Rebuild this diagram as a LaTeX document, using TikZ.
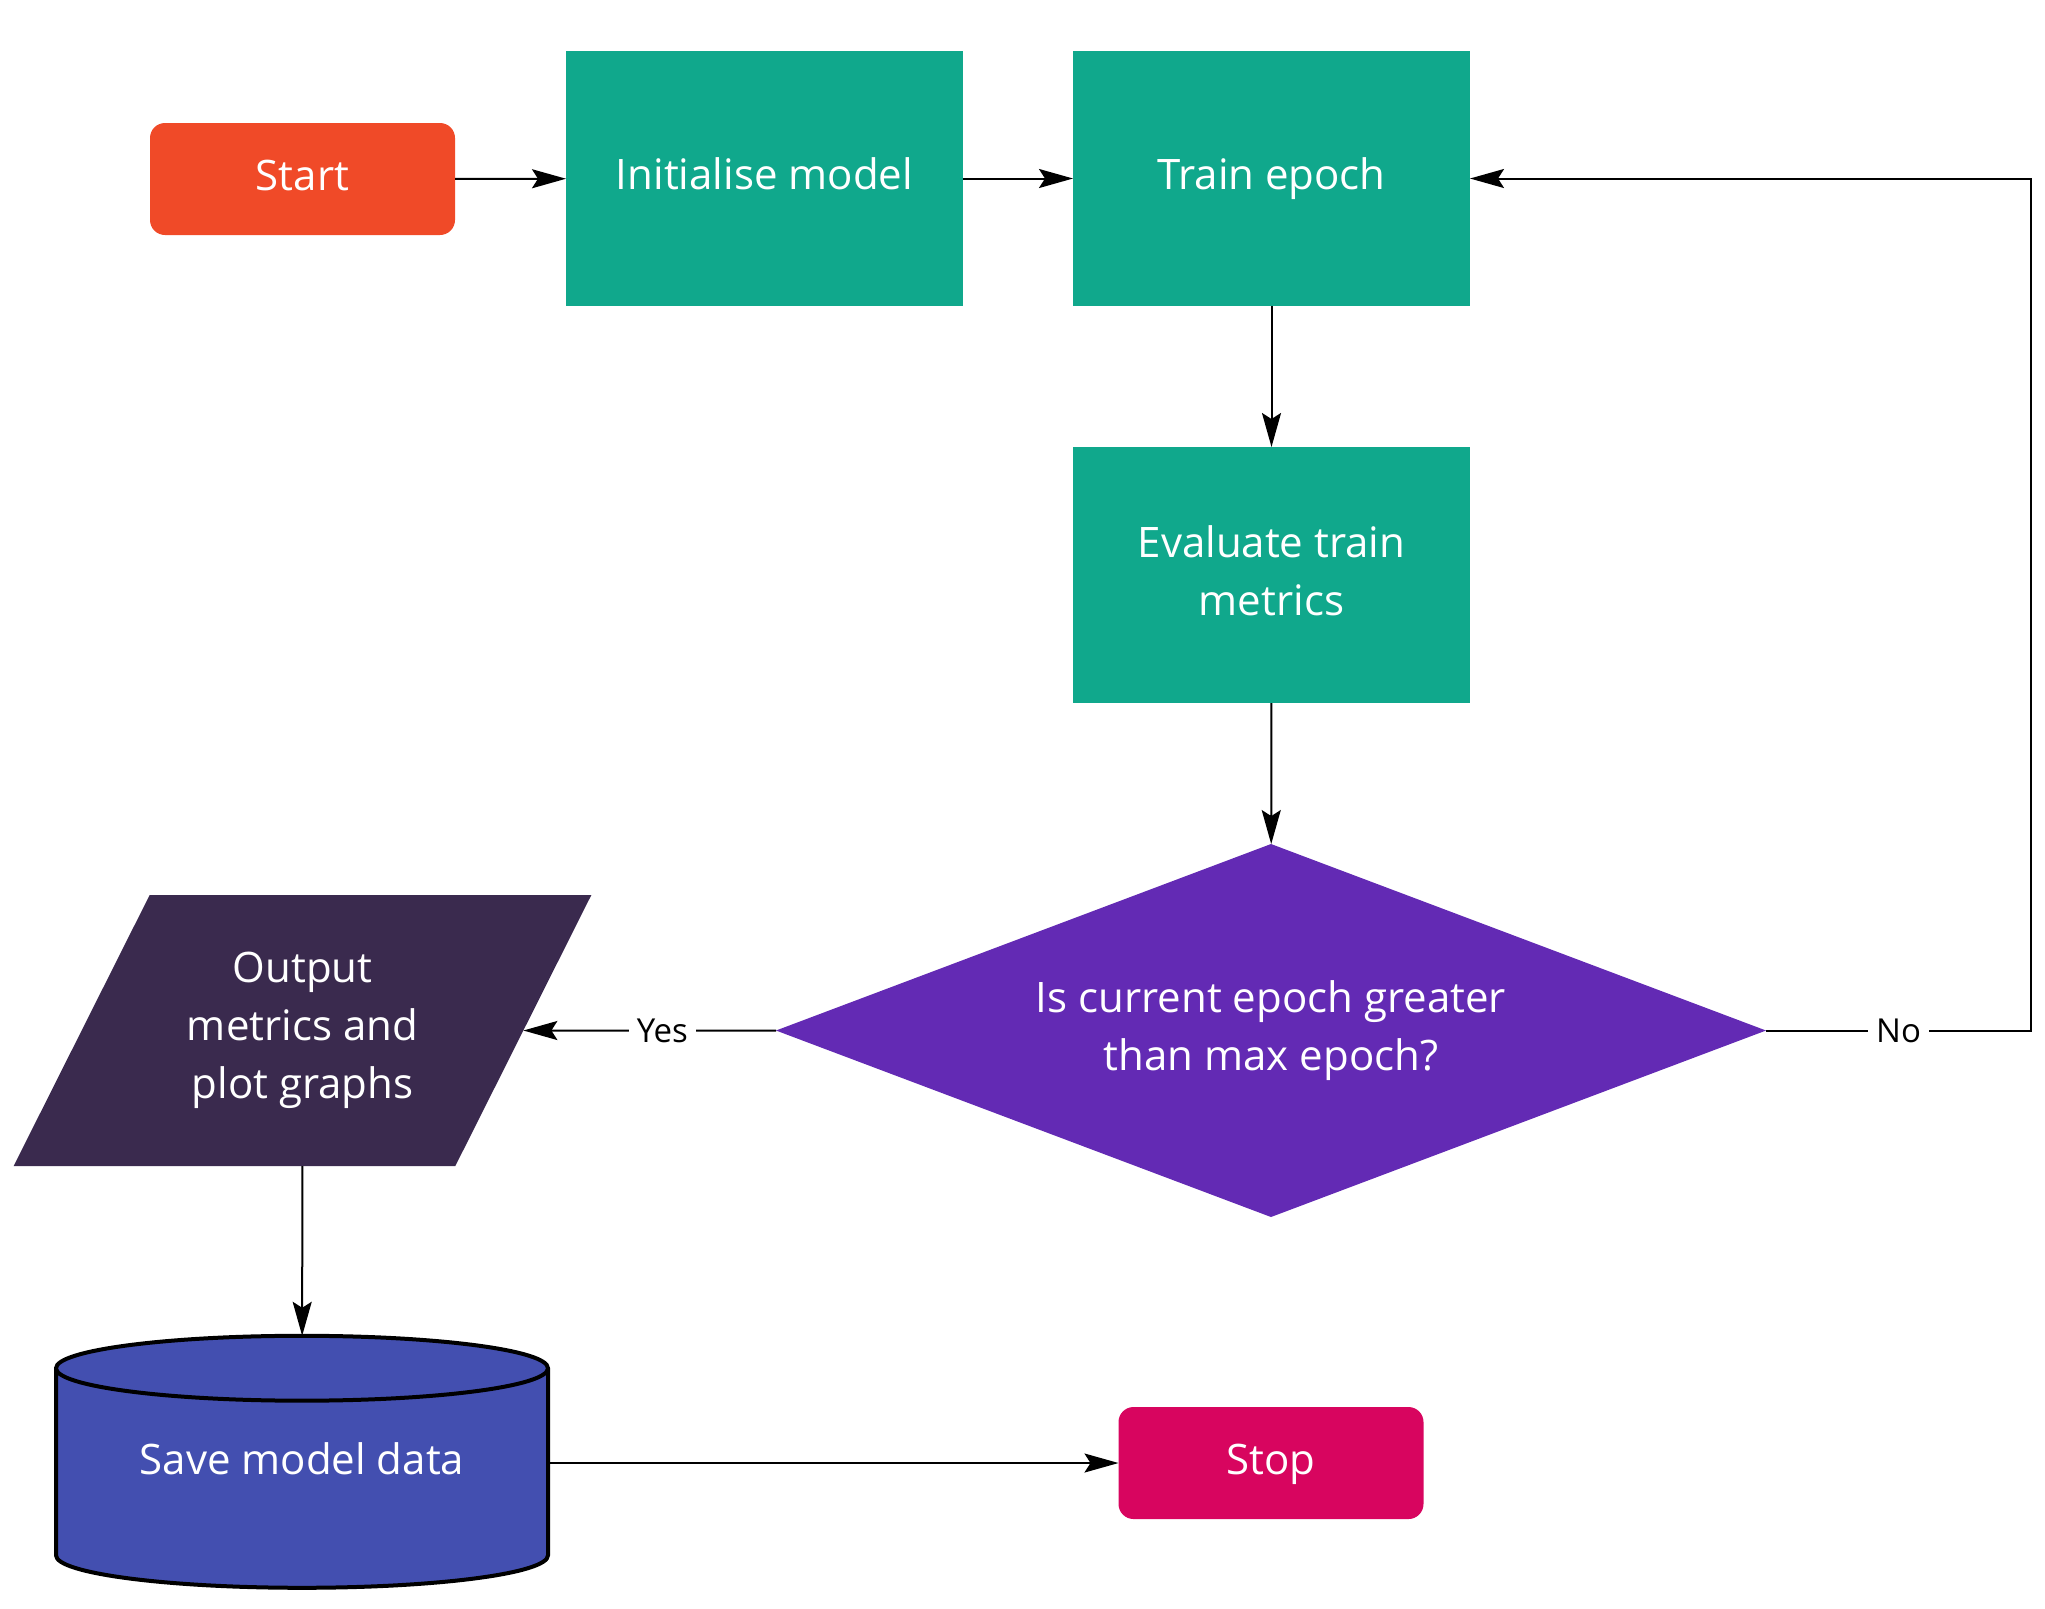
\documentclass[tikz,border=0pt]{standalone}
\usepackage{fontspec}
\setmainfont{Open Sans}
\usepackage{tikz}
\usetikzlibrary{arrows.meta,calc,positioning,shapes.geometric}
\definecolor{startred}{RGB}{240,74,40}
\definecolor{stepteal}{RGB}{16,168,140}
\definecolor{askpurple}{RGB}{99,42,180}
\definecolor{outdark}{RGB}{58,42,78}
\definecolor{saveblue}{RGB}{67,79,176}
\definecolor{stopred}{RGB}{216,5,95}
\tikzset{
	box/.style={text=white, font=\fontsize{21}{29}\selectfont, align=center,
		inner sep=0pt, outer sep=0pt},
	oneline/.style={text height=16pt, text depth=5pt},
	terminal/.style={box, oneline, rounded corners=7.5pt, minimum width=152.5pt, minimum height=56pt},
	stepbox/.style={box, fill=stepteal, minimum width=198.5pt, minimum height=127.5pt},
	ask/.style={box, diamond, aspect=2.65, fill=askpurple, minimum width=495pt, minimum height=186.5pt},
	io/.style={box, trapezium, trapezium stretches=true, trapezium left angle=56.7,
		trapezium right angle=123.3, fill=outdark, minimum width=289pt, minimum height=135.5pt},
	store/.style={box, cylinder, shape border rotate=90, draw=black, line width=2pt,
		fill=saveblue, minimum width=246pt, minimum height=126pt, aspect=0.2,
		text height=16pt, text depth=21pt},
	ar/.style={-{Stealth[length=17pt,width=9.5pt,inset=3pt]}, line width=1pt},
	lbl/.style={fill=white, font=\fontsize{16.5}{20}\selectfont, inner sep=4pt}
}
\begin{document}
\begin{tikzpicture}[x=0.5pt,y=-0.5pt]
   \useasboundingbox (0,0) rectangle (2045,1608);
   \node[terminal, fill=startred] (start) at (302.5,179) {Start};
   \node[stepbox, oneline] (init) at (764.5,178.5) {Initialise model};
   \node[stepbox, oneline] (train) at (1271.5,178.5) {Train epoch};
   \node[stepbox, minimum height=128pt, execute at end node={\rule[-4pt]{0pt}{4pt}}] (eval)
      at (1271.5,575) {Evaluate train\\metrics};
   \node[ask] (check) at (1271,1030.5) {Is current epoch greater\\than max epoch?};
   \node[io] (out) at (302.5,1030.5) {Output\\metrics and\\plot graphs};
   \node[store] (save) at (302,1479) {Save model data};
   \node[terminal, fill=stopred] (stop) at (1271,1463) {Stop};
   \coordinate (loop) at (2031,1030.5);
   \draw[ar] (start) -- (init);
   \draw[ar] (init) -- (train);
   \draw[ar] (train) -- (eval);
   \draw[ar] (eval) -- (check);
   \draw[ar] (check.west) -- node[lbl, pos=.45] {Yes} (out.east);
   \draw[ar] (check.east) -- node[lbl] {No} (loop) |- (train.east);
   \draw[ar] (out) -- (save);
   \draw[ar] (save.east |- stop) -- (stop);
\end{tikzpicture}
\end{document}
